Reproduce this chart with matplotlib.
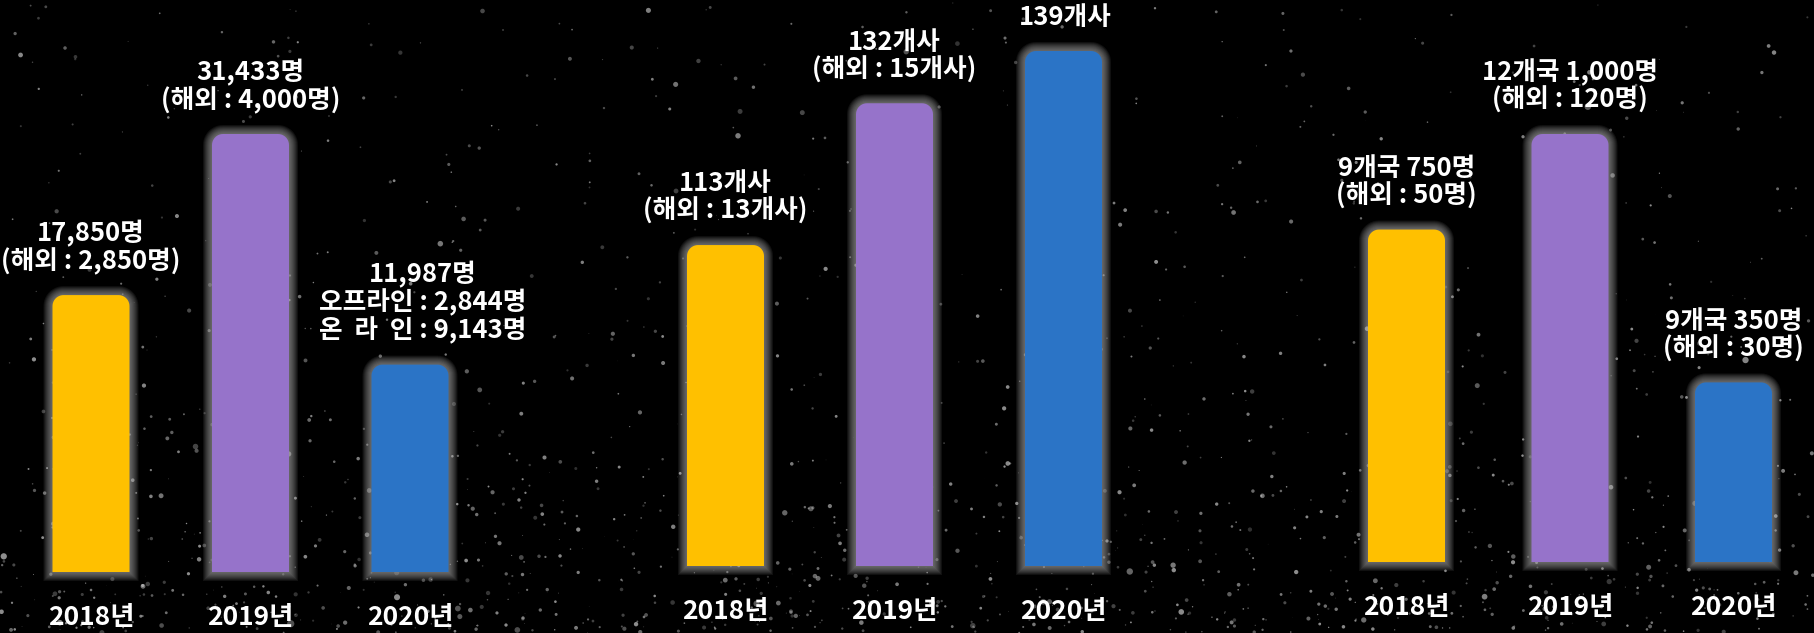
import numpy as np
import matplotlib
matplotlib.use('Agg')
import matplotlib.pyplot as plt
from matplotlib.path import Path
from matplotlib.patches import PathPatch
from matplotlib.transforms import IdentityTransform

plt.rcParams['font.family'] = ['Noto Sans CJK KR', 'DejaVu Sans']

# ---------------- data ----------------
years = ['2018년', '2019년', '2020년']
bar_colors = ['#FFC000', '#9673CA', '#2B74C6']

visitors = [17850, 31433, 11987]
visitor_labels = [['17,850명', '(해외 : 2,850명)'],
                  ['31,433명', '(해외 : 4,000명)'],
                  ['11,987명', '오프라인 : 2,844명', '온  라  인 : 9,143명']]

companies = [113, 132, 139]
company_labels = [['113개사', '(해외 : 13개사)'],
                  ['132개사', '(해외 : 15개사)'],
                  ['139개사']]

participants = [750, 1000, 350]
participant_labels = [['9개국 750명', '(해외 : 50명)'],
                      ['12개국 1,000명', '(해외 : 120명)'],
                      ['9개국 350명', '(해외 : 30명)']]

# ---------------- layout ----------------
W, H = 1815, 633
fig = plt.figure(figsize=(W / 100, H / 100), dpi=100, facecolor='black')

bg = fig.add_axes([0, 0, 1, 1])
bg.set_xlim(0, W)
bg.set_ylim(H, 0)
bg.axis('off')
bg.set_zorder(-10)

# decorative star field (background texture only)
rng = np.random.default_rng(11)
n1, n2 = 650, 1000
sx = np.concatenate([rng.uniform(0, W, n1), rng.uniform(0, W, n2)])
sy = np.concatenate([rng.uniform(0, H, n1), H - rng.exponential(110, n2)])
ss = np.concatenate([rng.gamma(1.3, 3.0, n1), rng.gamma(1.3, 3.0, n2)])
sa = rng.uniform(0.25, 0.75, n1 + n2)
cols = np.zeros((n1 + n2, 4))
cols[:, :3] = 0.75
cols[:, 3] = sa
bg.scatter(sx, sy, s=ss, c=cols, linewidths=0)

panels = [
    dict(values=visitors, labels=visitor_labels, c0=91, step=159.5, base=572, top=134, floor=-5500, dx=[0, 0, 13]),
    dict(values=companies, labels=company_labels, c0=725.5, step=169, base=566, top=51, floor=70, dx=[0, 0, 2]),
    dict(values=participants, labels=participant_labels, c0=1406.5, step=163.5, base=562, top=134, floor=-120, dx=[0, 0, 0]),
]


def rounded_top(x0, y0, x1, y1, r):
    # display coords (y up): square bottom, rounded top corners
    t = np.linspace(0, np.pi / 2, 12)
    right = np.column_stack([x1 - r + r * np.cos(t), y1 - r + r * np.sin(t)])
    left = np.column_stack([x0 + r + r * np.cos(np.pi / 2 + t), y1 - r + r * np.sin(np.pi / 2 + t)])
    pts = np.vstack([[x0, y0], [x1, y0], right, left, [x0, y0]])
    return Path(pts, closed=True)


BAR_PX = 77
RADIUS = 11
for p in panels:
    c0, step, base, top, floor = p['c0'], p['step'], p['base'], p['top'], p['floor']
    vals = p['values']
    ax = fig.add_axes([(c0 - 0.5 * step) / W, (H - base) / H, 3 * step / W, base / H])
    ax.set_xlim(-0.5, 2.5)
    vmax = max(vals)
    ax.set_ylim(floor, floor + (vmax - floor) * base / (base - top))
    ax.patch.set_visible(False)
    for s in ax.spines.values():
        s.set_visible(False)
    ax.set_yticks([])
    ax.set_xticks(range(3), years)
    ax.tick_params(axis='x', length=0, pad=23, labelsize=19, labelcolor='white')
    for t in ax.get_xticklabels():
        t.set_fontweight('bold')

    bars = ax.bar(range(3), [v - floor for v in vals], bottom=floor,
                  width=BAR_PX / step, color=bar_colors)
    for i, bar in enumerate(bars):
        bar.set_visible(False)
        (x0, y0), (x1, y1) = ax.transData.transform(
            [(bar.get_x(), bar.get_y()),
             (bar.get_x() + bar.get_width(), bar.get_y() + bar.get_height())])
        for d in range(1, 10):
            ax.add_patch(PathPatch(rounded_top(x0 - d, y0 - d, x1 + d, y1 + d, RADIUS + d),
                                   transform=IdentityTransform(), fc='#b4b4b4', ec='none',
                                   alpha=0.09, clip_on=False, zorder=1))
        ax.add_patch(PathPatch(rounded_top(x0, y0, x1, y1, RADIUS),
                               transform=IdentityTransform(), fc=bar.get_facecolor(),
                               ec='none', clip_on=False, zorder=2))
        ax.annotate('\n'.join(p['labels'][i]), xy=(i, vals[i]),
                    xytext=(p['dx'][i], 20), textcoords='offset pixels',
                    ha='center', va='bottom', multialignment='center',
                    color='white', fontsize=18.5, fontweight='bold',
                    linespacing=1.02, annotation_clip=False, zorder=3)

fig.savefig('out.png', dpi=100, facecolor='black')
